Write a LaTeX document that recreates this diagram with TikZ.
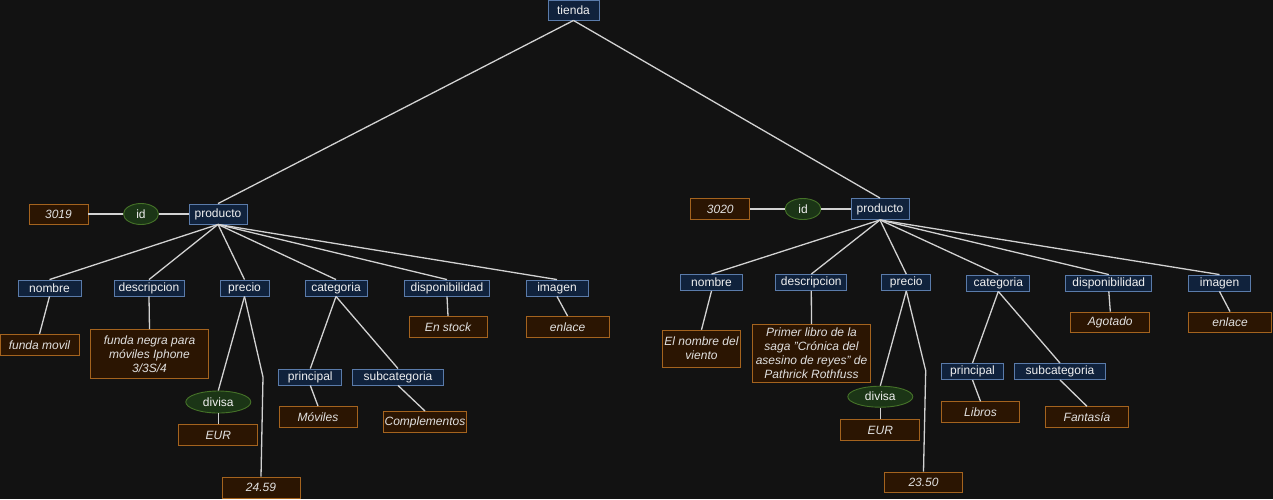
\documentclass[tikz,border=0pt]{standalone}
\usepackage{fontspec}
\setmainfont{Liberation Sans}
\usetikzlibrary{shapes.geometric}
\definecolor{bg}{HTML}{121212}
\definecolor{bfill}{HTML}{10223C}
\definecolor{bdraw}{HTML}{5A7BAA}
\definecolor{ofill}{HTML}{2B1502}
\definecolor{odraw}{HTML}{A4631E}
\definecolor{gfill}{HTML}{1B3516}
\definecolor{gdraw}{HTML}{457228}
\definecolor{txt}{HTML}{F0F0F0}
\definecolor{vtxt}{HTML}{E0E0E0}
\definecolor{edge}{HTML}{D2D2D2}
\tikzset{
  base/.style={inner sep=0pt, line width=0.9pt, font=\fontsize{12}{14}\selectfont, align=center},
  keybox/.style={base, rectangle, fill=bfill, draw=bdraw, text=txt, minimum height=16pt},
  valbox/.style={base, rectangle, fill=ofill, draw=odraw, text=vtxt, minimum height=21pt, font=\fontsize{12}{14}\selectfont\itshape},
  attr/.style={base, ellipse, fill=gfill, draw=gdraw, text=txt, minimum height=21pt},
  conn/.style={draw=edge, line width=1.3pt}
}
\begin{document}
\begin{tikzpicture}[x=1pt,y=-1pt]
\fill[bg] (0,0) rectangle (1273,499);
\useasboundingbox (0,0) rectangle (1273,499);
% root
\node[keybox, minimum width=51pt, minimum height=20pt] (tienda) at (573.5,10) {tienda};
% ---------- left product ----------
\node[keybox, minimum width=58pt, minimum height=20pt] (prodL) at (218,214) {producto};
\node[attr, minimum width=35pt] (idL) at (141,214) {id};
\node[valbox, minimum width=59pt, minimum height=20pt] (v3019) at (58.5,214) {3019};
\node[keybox, minimum width=63pt] (nomL) at (49.5,288) {nombre};
\node[keybox, minimum width=70pt] (desL) at (149,288) {descripcion};
\node[keybox, minimum width=49pt] (preL) at (244.5,288) {precio};
\node[keybox, minimum width=62pt] (catL) at (336,288) {categoria};
\node[keybox, minimum width=85pt] (disL) at (447,288) {disponibilidad};
\node[keybox, minimum width=62pt] (imgL) at (557,288) {imagen};
\node[valbox, minimum width=79pt] (vnomL) at (39.5,345) {funda movil};
\node[valbox, minimum width=118pt, minimum height=49pt] (vdesL) at (149.5,354) {funda negra para\\móviles Iphone\\3/3S/4};
\node[valbox, minimum width=78pt] (vdisL) at (448,327) {En stock};
\node[valbox, minimum width=83pt] (vimgL) at (567.6,327) {enlace};
\node[keybox, minimum width=63pt] (priL) at (310.3,377) {principal};
\node[keybox, minimum width=91pt] (subL) at (398,377) {subcategoria};
\node[attr, minimum width=65pt, minimum height=22pt] (divL) at (218.3,402) {divisa};
\node[valbox, minimum width=79pt] (veurL) at (218.3,435) {EUR};
\node[valbox, minimum width=78pt] (vpreL) at (261,487.5) {24.59};
\node[valbox, minimum width=78pt] (vpriL) at (318,417) {Móviles};
\node[valbox, minimum width=83pt] (vsubL) at (425,422) {Complementos};
\coordinate (wL) at (263,377);
% ---------- right product ----------
\node[keybox, minimum width=58pt, minimum height=21pt] (prodR) at (880,209) {producto};
\node[attr, minimum width=36pt] (idR) at (803,209) {id};
\node[valbox, minimum width=59pt] (v3020) at (720.3,209) {3020};
\node[keybox, minimum width=62pt] (nomR) at (711.5,282.5) {nombre};
\node[keybox, minimum width=71pt] (desR) at (811.3,282.5) {descripcion};
\node[keybox, minimum width=49pt] (preR) at (906.3,282.5) {precio};
\node[keybox, minimum width=63pt] (catR) at (998.3,283) {categoria};
\node[keybox, minimum width=86pt] (disR) at (1108.8,283) {disponibilidad};
\node[keybox, minimum width=62pt] (imgR) at (1219.5,283) {imagen};
\node[valbox, minimum width=78pt, minimum height=37pt] (vnomR) at (701.5,348.7) {El nombre del\\viento};
\node[valbox, minimum width=118pt, minimum height=58pt] (vdesR) at (811.5,353.5) {Primer libro de la\\saga "Crónica del\\asesino de reyes" de\\Pathrick Rothfuss};
\node[valbox, minimum width=79pt, minimum height=20pt] (vdisR) at (1110.3,322) {Agotado};
\node[valbox, minimum width=83pt, minimum height=20pt] (vimgR) at (1230,322) {enlace};
\node[keybox, minimum width=62pt] (priR) at (972.5,371.5) {principal};
\node[keybox, minimum width=91pt] (subR) at (1060,371.5) {subcategoria};
\node[valbox, minimum width=78pt] (vpriR) at (980.5,412.3) {Libros};
\node[valbox, minimum width=83pt] (vsubR) at (1087,417.3) {Fantasía};
\node[attr, minimum width=65pt] (divR) at (880.3,396.7) {divisa};
\node[valbox, minimum width=79pt] (veurR) at (880.3,430) {EUR};
\node[valbox, minimum width=78pt, minimum height=20pt] (vpreR) at (923.5,482) {23.50};
\coordinate (wR) at (925.7,370.7);
% ---------- connectors ----------
\draw[conn] (tienda.south) -- (prodL.north);
\draw[conn] (tienda.south) -- (prodR.north);
% left
\draw[conn] (v3019.east) -- (idL.west);
\draw[conn] (idL.east) -- (prodL.west);
\foreach \c in {nomL,desL,preL,catL,disL,imgL} \draw[conn] (prodL.south) -- (\c.north);
\draw[conn] (nomL.south) -- (vnomL.north);
\draw[conn] (desL.south) -- (vdesL.north);
\draw[conn] (preL.south) -- (divL.north);
\draw[conn] (divL.south) -- (veurL.north);
\draw[conn] (preL.south) -- (wL) -- (vpreL.north);
\draw[conn] (catL.south) -- (priL.north);
\draw[conn] (catL.south) -- (subL.north);
\draw[conn] (priL.south) -- (vpriL.north);
\draw[conn] (subL.south) -- (vsubL.north);
\draw[conn] (disL.south) -- (vdisL.north);
\draw[conn] (imgL.south) -- (vimgL.north);
% right
\draw[conn] (v3020.east) -- (idR.west);
\draw[conn] (idR.east) -- (prodR.west);
\foreach \c in {nomR,desR,preR,catR,disR,imgR} \draw[conn] (prodR.south) -- (\c.north);
\draw[conn] (nomR.south) -- (vnomR.north);
\draw[conn] (desR.south) -- (vdesR.north);
\draw[conn] (preR.south) -- (divR.north);
\draw[conn] (divR.south) -- (veurR.north);
\draw[conn] (preR.south) -- (wR) -- (vpreR.north);
\draw[conn] (catR.south) -- (priR.north);
\draw[conn] (catR.south) -- (subR.north);
\draw[conn] (priR.south) -- (vpriR.north);
\draw[conn] (subR.south) -- (vsubR.north);
\draw[conn] (disR.south) -- (vdisR.north);
\draw[conn] (imgR.south) -- (vimgR.north);
\end{tikzpicture}
\end{document}
